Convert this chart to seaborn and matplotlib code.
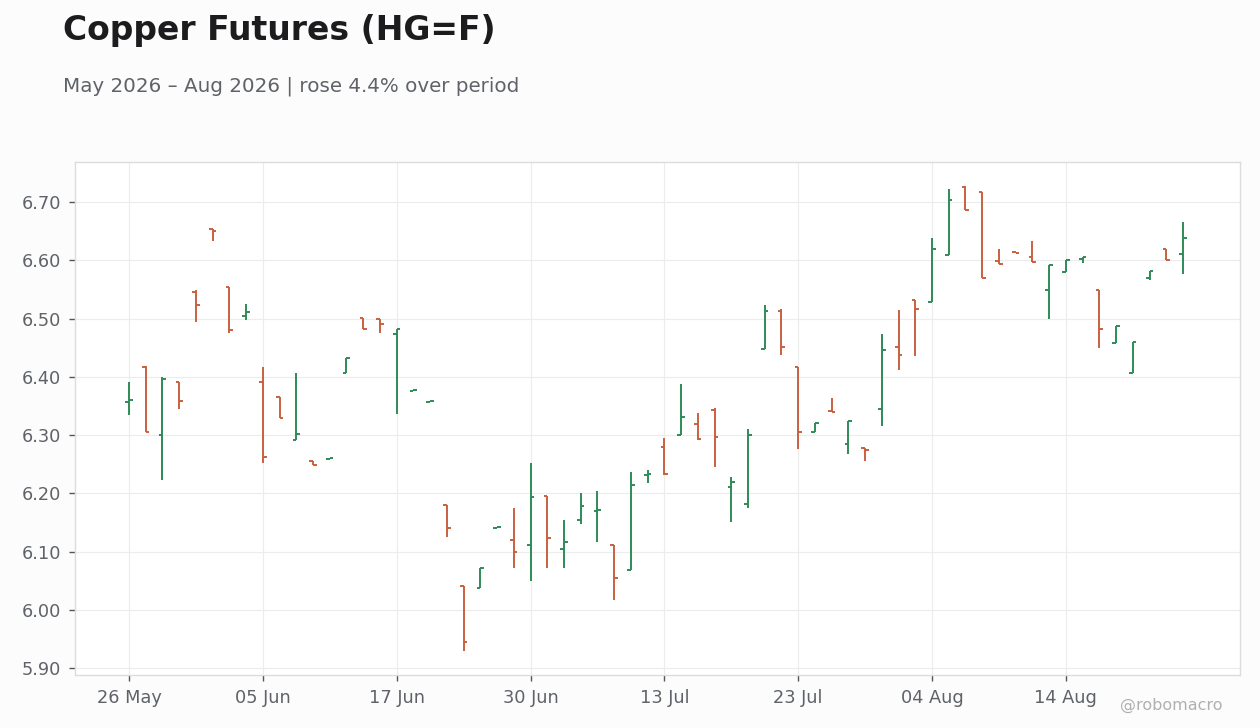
import matplotlib
matplotlib.use("Agg")
import matplotlib.pyplot as plt
import seaborn as sns
import pandas as pd

# trading days (NYSE-style calendar, Juneteenth and 3 Jul closed)
dates = pd.bdate_range("2026-05-26", "2026-08-25", freq="C",
                       holidays=["2026-06-19", "2026-07-03"])

open_ = [6.356, 6.417, 6.300, 6.392, 6.545, 6.654, 6.554, 6.505, 6.392, 6.365,
         6.291, 6.255, 6.259, 6.406, 6.501, 6.499, 6.474, 6.375, 6.357, 6.180,
         6.040, 6.038, 6.140, 6.120, 6.112, 6.195, 6.104, 6.155, 6.169, 6.111,
         6.069, 6.231, 6.280, 6.300, 6.319, 6.343, 6.210, 6.181, 6.447, 6.513,
         6.417, 6.305, 6.341, 6.285, 6.277, 6.345, 6.452, 6.532, 6.529, 6.609,
         6.726, 6.717, 6.599, 6.614, 6.606, 6.549, 6.580, 6.603, 6.550, 6.458,
         6.407, 6.569, 6.619, 6.611]
high = [6.391, 6.418, 6.399, 6.392, 6.549, 6.654, 6.554, 6.525, 6.417, 6.365,
        6.407, 6.255, 6.261, 6.432, 6.501, 6.499, 6.483, 6.377, 6.359, 6.180,
        6.040, 6.071, 6.142, 6.175, 6.252, 6.195, 6.154, 6.201, 6.204, 6.111,
        6.237, 6.240, 6.295, 6.387, 6.338, 6.347, 6.228, 6.311, 6.523, 6.517,
        6.417, 6.321, 6.364, 6.324, 6.277, 6.474, 6.515, 6.532, 6.638, 6.722,
        6.727, 6.717, 6.619, 6.614, 6.633, 6.592, 6.600, 6.605, 6.550, 6.488,
        6.460, 6.581, 6.619, 6.666]
low = [6.335, 6.305, 6.223, 6.345, 6.495, 6.634, 6.476, 6.498, 6.252, 6.329,
       6.291, 6.248, 6.259, 6.406, 6.483, 6.475, 6.336, 6.375, 6.357, 6.125,
       5.929, 6.038, 6.140, 6.071, 6.050, 6.071, 6.071, 6.148, 6.117, 6.016,
       6.069, 6.217, 6.232, 6.300, 6.292, 6.246, 6.150, 6.175, 6.447, 6.438,
       6.276, 6.305, 6.339, 6.268, 6.255, 6.316, 6.412, 6.436, 6.529, 6.609,
       6.687, 6.570, 6.594, 6.612, 6.597, 6.500, 6.580, 6.596, 6.450, 6.458,
       6.407, 6.566, 6.600, 6.577]
close = [6.361, 6.305, 6.397, 6.359, 6.524, 6.651, 6.481, 6.512, 6.263, 6.329,
         6.302, 6.249, 6.261, 6.432, 6.483, 6.491, 6.483, 6.377, 6.359, 6.141,
         5.944, 6.071, 6.142, 6.099, 6.193, 6.124, 6.116, 6.179, 6.172, 6.055,
         6.215, 6.234, 6.234, 6.331, 6.294, 6.296, 6.220, 6.300, 6.513, 6.452,
         6.306, 6.321, 6.339, 6.324, 6.274, 6.446, 6.438, 6.516, 6.619, 6.704,
         6.687, 6.570, 6.594, 6.612, 6.597, 6.592, 6.600, 6.605, 6.482, 6.488,
         6.460, 6.581, 6.600, 6.639]

tick_every = 8
UP, DOWN = "#2e8b57", "#c8603f"

df = pd.DataFrame({"date": dates, "open": open_, "high": high,
                   "low": low, "close": close})
df["i"] = range(len(df))
df["color"] = [UP if c >= o else DOWN for o, c in zip(df.open, df.close)]
chg = (df.close.iloc[-1] / df.close.iloc[0] - 1) * 100

sns.set_theme(style="whitegrid")
plt.rcParams["font.family"] = ["DejaVu Sans"]

fig = plt.figure(figsize=(12.6, 7.28), dpi=100, facecolor="#fcfcfc")
ax = fig.add_axes([0.0595, 0.0728, 0.9245, 0.7047])
ax.set_facecolor("white")

w = 0.22
ax.vlines(df.i, df.low, df.high, colors=df.color, lw=1.4)
ax.hlines(df.open, df.i - w, df.i, colors=df.color, lw=1.4)
ax.hlines(df.close, df.i, df.i + w, colors=df.color, lw=1.4)

ax.set_xlim(-3.23, 66.4)
ax.set_ylim(5.888, 6.769)
ticks = df.i[::tick_every]
ax.set_xticks(ticks)
ax.set_xticklabels([d.strftime("%d %b") for d in df.date[::tick_every]])
ax.yaxis.set_major_formatter(matplotlib.ticker.FormatStrFormatter("%.2f"))
ax.set_yticks([5.9 + 0.1 * k for k in range(9)])

ax.grid(True, color="#ececec", lw=0.8)
for s in ax.spines.values():
    s.set_color("#dcdcdc")
    s.set_linewidth(1)
ax.tick_params(axis="both", labelsize=12.8, colors="#555555", labelcolor="#5f6368",
               length=4, width=1, pad=6, bottom=True, left=True)
ax.set_xlabel("")
ax.set_ylabel("")

fig.text(0.05, 0.945, "Copper Futures (HG=F)", fontsize=23.8, fontweight="bold",
         color="#1c1c1e", va="baseline")
fig.text(0.05, 0.874, f"May 2026 \u2013 Aug 2026 | rose {chg:.1f}% over period",
         fontsize=14.3, color="#5f6368", va="baseline")
fig.text(0.97, 0.025, "@robomacro", fontsize=11.5, color="#b0b0b0",
         ha="right", va="baseline")

fig.savefig("out.png", dpi=100, facecolor=fig.get_facecolor())
